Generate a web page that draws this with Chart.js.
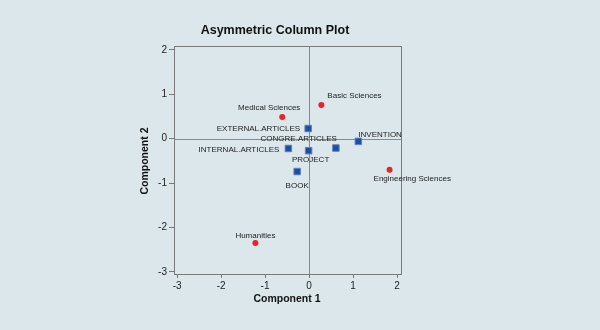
<!DOCTYPE html>
<html>
<head>
<meta charset="utf-8">
<script src="https://cdn.jsdelivr.net/npm/chart.js@4/dist/chart.umd.min.js"></script>
<style>
  html, body { margin: 0; padding: 0; background: #dbe7eb; }
  #wrap { width: 600px; height: 330px; position: relative; }
</style>
</head>
<body>
<div id="wrap"><canvas id="myChart"></canvas></div>
<script>
// 行（赤い点）
const rowNames = ["Basic Sciences", "Medical Sciences", "Engineering Sciences", "Humanities"];
const rowX     = [0.28, -0.61, 1.83, -1.22];
const rowY     = [0.76, 0.49, -0.70, -2.35];

// 列（青い四角）
const colNames = ["EXTERNAL.ARTICLES", "INVENTION", "CONGRE.ARTICLES", "INTERNAL.ARTICLES", "PROJECT", "BOOK"];
const colX     = [-0.02, 1.12, 0.61, -0.47, -0.01, -0.27];
const colY     = [0.23, -0.06, -0.21, -0.22, -0.27, -0.74];

// 目盛り
const xTicks = [-3, -2, -1, 0, 1, 2];
const yTicks = [-3, -2, -1, 0, 1, 2];

// ラベルの位置調整（点からのずれ）
const rowLabelPos = [
  { dx: 6,   dy: -9, align: "left" },
  { dx: -13, dy: -9, align: "center" },
  { dx: -16, dy: 9,  align: "left" },
  { dx: 0,   dy: -7, align: "center" },
];
const colLabelPos = [
  { dx: -8, dy: 0,  align: "right" },
  { dx: 0,  dy: -7, align: "left" },
  { dx: 1,  dy: -9, align: "right" },
  { dx: -9, dy: 1,  align: "right" },
  { dx: 2,  dy: 9,  align: "center" },
  { dx: 0,  dy: 14, align: "center" },
];

const font = "'Liberation Sans', Arial, sans-serif";

// 枠・ゼロ線・ラベル・タイトルを描くプラグイン
const decor = {
  id: "decor",
  beforeDatasetsDraw(chart) {
    const { ctx, chartArea: a, scales } = chart;
    const x0 = scales.x.getPixelForValue(0);
    const y0 = scales.y.getPixelForValue(0);
    ctx.save();
    ctx.strokeStyle = "#8a8a8a";
    ctx.lineWidth = 1;
    ctx.beginPath();
    ctx.moveTo(Math.round(x0) + 0.5, a.top);
    ctx.lineTo(Math.round(x0) + 0.5, a.bottom);
    ctx.moveTo(a.left, Math.round(y0) + 0.5);
    ctx.lineTo(a.right, Math.round(y0) + 0.5);
    ctx.stroke();
    ctx.strokeStyle = "#7a7a7a";
    ctx.strokeRect(a.left + 0.5, a.top + 0.5, a.right - a.left, a.bottom - a.top);
    ctx.restore();
  },
  afterDatasetsDraw(chart) {
    const { ctx } = chart;
    ctx.save();
    ctx.fillStyle = "#222";
    ctx.font = "8px " + font;
    ctx.textBaseline = "middle";
    const put = (dsIndex, names, pos) => {
      chart.getDatasetMeta(dsIndex).data.forEach((pt, i) => {
        ctx.textAlign = pos[i].align;
        ctx.fillText(names[i], pt.x + pos[i].dx, pt.y + pos[i].dy);
      });
    };
    put(0, rowNames, rowLabelPos);
    put(1, colNames, colLabelPos);

    // タイトル
    ctx.fillStyle = "#111";
    ctx.textAlign = "center";
    ctx.font = "bold 12.5px " + font;
    ctx.fillText("Asymmetric Column Plot", 275, 31);
    ctx.font = "bold 10.5px " + font;
    ctx.fillText("Component 1", 287, 299);
    ctx.translate(145, 161);
    ctx.rotate(-Math.PI / 2);
    ctx.fillText("Component 2", 0, 0);
    ctx.restore();
  }
};

const data = {
  datasets: [{
    label: "rows",
    data: rowX.map((x, i) => ({ x: x, y: rowY[i] })),
    pointStyle: "circle",
    pointRadius: 3,
    backgroundColor: "#e8232a",
    borderColor: "#e8232a",
    borderWidth: 0,
  }, {
    label: "columns",
    data: colX.map((x, i) => ({ x: x, y: colY[i] })),
    pointStyle: "rect",
    pointRadius: 4.6,
    backgroundColor: "#1f4e9e",
    borderColor: "#5d82bf",
    borderWidth: 1,
  }]
};

const config = {
  type: "scatter",
  data: data,
  plugins: [decor],
  options: {
    responsive: true,
    maintainAspectRatio: false,
    animation: false,
    layout: { padding: { left: 0, right: 199, top: 46, bottom: 0 } },
    plugins: { legend: { display: false }, tooltip: { enabled: false } },
    scales: {
      x: {
        type: "linear",
        min: -3.07,
        max: 2.09,
        afterBuildTicks: s => { s.ticks = xTicks.map(v => ({ value: v })); },
        afterFit: s => { s.height = 56; },
        grid: { drawOnChartArea: false, drawTicks: true, tickLength: 4, color: "#777" },
        border: { display: false },
        ticks: { color: "#222", font: { family: font, size: 10 }, padding: 2, maxRotation: 0 },
      },
      y: {
        type: "linear",
        min: -3.05,
        max: 2.09,
        afterBuildTicks: s => { s.ticks = yTicks.map(v => ({ value: v })); },
        afterFit: s => { s.width = 174; },
        grid: { drawOnChartArea: false, drawTicks: true, tickLength: 5, color: "#777" },
        border: { display: false },
        ticks: { color: "#222", font: { family: font, size: 10 }, padding: 2 },
      }
    }
  }
};

const ctx = document.getElementById("myChart");
const myChart = new Chart(ctx, config);
</script>
</body>
</html>
